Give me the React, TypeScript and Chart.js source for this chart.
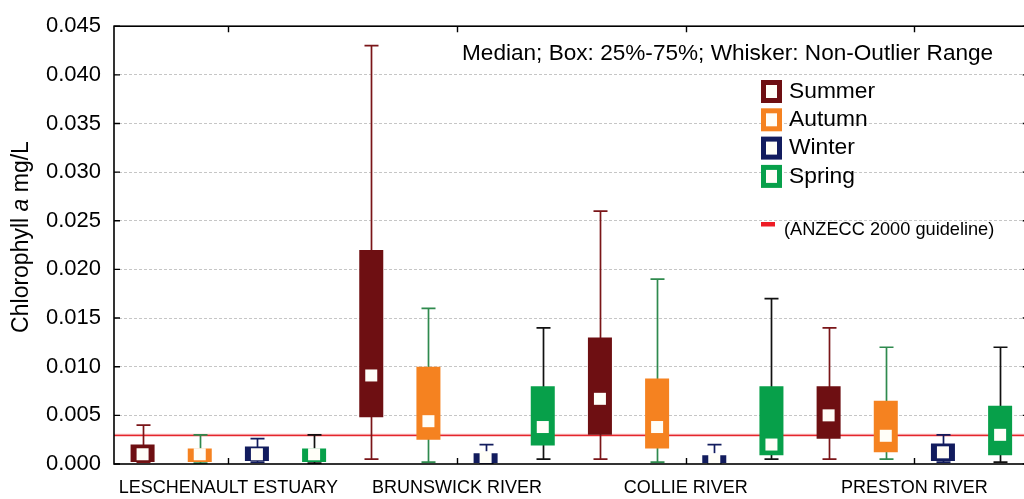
import React, { useEffect, useRef } from 'react';
import { Chart, registerables } from 'chart.js';

Chart.register(...registerables);

// ---------- data ----------
const categories = ['LESCHENAULT ESTUARY', 'BRUNSWICK RIVER', 'COLLIE RIVER', 'PRESTON RIVER'];
const seasons = ['Summer', 'Autumn', 'Winter', 'Spring'];

const summerMin = [0.0002, 0.0005, 0.0005, 0.0005];
const summerQ1 = [0.0002, 0.0048, 0.003, 0.0026];
const summerMedian = [0.001, 0.0091, 0.0067, 0.005];
const summerQ3 = [0.002, 0.022, 0.013, 0.008];
const summerMax = [0.004, 0.043, 0.026, 0.014];

const autumnMin = [0.0001, 0.0002, 0.0002, 0.0005];
const autumnQ1 = [0.0002, 0.0025, 0.0016, 0.0012];
const autumnMedian = [0.001, 0.0044, 0.0038, 0.0029];
const autumnQ3 = [0.0016, 0.01, 0.0088, 0.0065];
const autumnMax = [0.003, 0.016, 0.019, 0.012];

const winterMin = [0.0002, 0.0001, 0.0001, 0.0002];
const winterQ1 = [0.0003, 0.0001, 0.0001, 0.0003];
const winterMedian = [0.001, 0.0007, 0.0005, 0.0012];
const winterQ3 = [0.0018, 0.0011, 0.0009, 0.0021];
const winterMax = [0.0026, 0.002, 0.002, 0.003];

const springMin = [0.0001, 0.0005, 0.0005, 0.0002];
const springQ1 = [0.0002, 0.0019, 0.0009, 0.0009];
const springMedian = [0.001, 0.0038, 0.002, 0.003];
const springQ3 = [0.0016, 0.008, 0.008, 0.006];
const springMax = [0.003, 0.014, 0.017, 0.012];

const guideline = 0.003;
const yTickValues = [0, 0.005, 0.01, 0.015, 0.02, 0.025, 0.03, 0.035, 0.04, 0.045];

const headingText = 'Median; Box: 25%-75%; Whisker: Non-Outlier Range';
const guidelineLabel = '(ANZECC 2000 guideline)';

// ---------- styling ----------
const FAM = '"Liberation Sans", Arial, Helvetica, sans-serif';
const boxColors = ['#6e0f12', '#f58220', '#121c5e', '#07a04a'];
const whiskerColors = ['#7a1518', '#2f8a4e', '#121c5e', '#111111'];
const medianColor = '#fffef8';

const mins = [summerMin, autumnMin, winterMin, springMin];
const q1s = [summerQ1, autumnQ1, winterQ1, springQ1];
const medians = [summerMedian, autumnMedian, winterMedian, springMedian];
const q3s = [summerQ3, autumnQ3, winterQ3, springQ3];
const maxs = [summerMax, autumnMax, winterMax, springMax];

const extrasPlugin = {
  id: 'boxExtras',
  beforeDatasetsDraw(chart: any) {
    const { ctx, chartArea: a } = chart;
    const y = chart.scales.y;
    ctx.save();
    // guideline
    const gy = y.getPixelForValue(guideline) + 0.5;
    ctx.strokeStyle = 'rgba(235,60,65,0.35)';
    ctx.lineWidth = 3;
    ctx.beginPath();
    ctx.moveTo(a.left, gy);
    ctx.lineTo(a.right, gy);
    ctx.stroke();
    ctx.strokeStyle = '#e4262c';
    ctx.lineWidth = 1.3;
    ctx.beginPath();
    ctx.moveTo(a.left, gy);
    ctx.lineTo(a.right, gy);
    ctx.stroke();
    // whiskers
    chart.data.datasets.forEach((_ds: any, i: number) => {
      const meta = chart.getDatasetMeta(i);
      meta.data.forEach((el: any, j: number) => {
        const x = Math.round(el.x) + 0.5;
        const yMin = y.getPixelForValue(mins[i][j]);
        const yMax = y.getPixelForValue(maxs[i][j]);
        ctx.strokeStyle = whiskerColors[i];
        ctx.lineWidth = 1.7;
        ctx.beginPath();
        ctx.moveTo(x, yMin);
        ctx.lineTo(x, yMax);
        ctx.moveTo(x - 7, yMax);
        ctx.lineTo(x + 7, yMax);
        ctx.moveTo(x - 7, yMin);
        ctx.lineTo(x + 7, yMin);
        ctx.stroke();
      });
    });
    ctx.restore();
  },
  afterDatasetsDraw(chart: any) {
    const { ctx } = chart;
    const y = chart.scales.y;
    ctx.save();
    ctx.fillStyle = medianColor;
    chart.data.datasets.forEach((_ds: any, i: number) => {
      const meta = chart.getDatasetMeta(i);
      meta.data.forEach((el: any, j: number) => {
        const my = y.getPixelForValue(medians[i][j]);
        ctx.fillRect(el.x - 6, my - 6, 12, 12);
      });
    });
    ctx.restore();
  },
  afterDraw(chart: any) {
    const { ctx, chartArea: a } = chart;
    const x = chart.scales.x;
    const y = chart.scales.y;
    ctx.save();
    // frame
    ctx.strokeStyle = '#000';
    ctx.lineWidth = 1.6;
    ctx.strokeRect(a.left, a.top, a.right - a.left, a.bottom - a.top);
    // ticks
    ctx.lineWidth = 1.4;
    ctx.beginPath();
    yTickValues.forEach((v) => {
      const py = y.getPixelForValue(v);
      ctx.moveTo(a.left, py);
      ctx.lineTo(a.left + 6, py);
      ctx.moveTo(a.right, py);
      ctx.lineTo(a.right - 6, py);
    });
    categories.forEach((_c, i) => {
      const px = Math.round(x.getPixelForTick(i)) + 0.5;
      ctx.moveTo(px, a.bottom);
      ctx.lineTo(px, a.bottom - 6);
      ctx.moveTo(px, a.top);
      ctx.lineTo(px, a.top + 6);
    });
    ctx.stroke();

    // heading
    ctx.fillStyle = '#000';
    ctx.textBaseline = 'middle';
    ctx.textAlign = 'left';
    ctx.font = `22.6px ${FAM}`;
    ctx.fillText(headingText, 462, 54);

    // legend
    seasons.forEach((s, i) => {
      const cy = 91.5 + i * 28.3;
      ctx.fillStyle = boxColors[i];
      ctx.fillRect(761, cy - 11.5, 21, 23);
      ctx.fillStyle = medianColor;
      ctx.fillRect(766, cy - 6.5, 11, 13);
      ctx.fillStyle = '#000';
      ctx.font = `22.8px ${FAM}`;
      ctx.fillText(s, 789, cy);
    });
    ctx.fillStyle = '#ee1c25';
    ctx.fillRect(761, 222, 14, 4.5);
    ctx.fillStyle = '#000';
    ctx.font = `18.2px ${FAM}`;
    ctx.fillText(guidelineLabel, 784, 230);

    // y-axis title with italic "a"
    ctx.save();
    ctx.translate(22, 237);
    ctx.rotate(-Math.PI / 2);
    const parts: [string, string][] = [
      ['Chlorophyll ', `23px ${FAM}`],
      ['a', `italic 23px ${FAM}`],
      [' mg/L', `23px ${FAM}`],
    ];
    let total = 0;
    parts.forEach(([t, f]) => {
      ctx.font = f;
      total += ctx.measureText(t).width;
    });
    let cx = -total / 2;
    parts.forEach(([t, f]) => {
      ctx.font = f;
      ctx.fillText(t, cx, 0);
      cx += ctx.measureText(t).width;
    });
    ctx.restore();
    ctx.restore();
  },
};

export default function App() {
  const ref = useRef<HTMLCanvasElement>(null);
  useEffect(() => {
    if (!ref.current) return;
    const chart = new Chart(ref.current, {
      type: 'bar',
      data: {
        labels: categories,
        datasets: seasons.map((s, i) => ({
          label: s,
          data: categories.map((_c, j) => [q1s[i][j], q3s[i][j]]),
          backgroundColor: boxColors[i],
          borderWidth: 0,
          categoryPercentage: 1,
          barPercentage: 0.42,
        })) as any,
      },
      options: {
        animation: false,
        responsive: false,
        devicePixelRatio: 1,
        layout: { padding: { top: 18, right: 1.3, left: 0, bottom: 0 } },
        plugins: {
          legend: { display: false },
          tooltip: { enabled: false },
        },
        scales: {
          x: {
            type: 'category',
            offset: true,
            grid: { display: false, drawTicks: false },
            border: { display: false },
            ticks: {
              color: '#000',
              font: { family: FAM, size: 18 },
              padding: 13,
              maxRotation: 0,
              autoSkip: false,
            },
            afterFit: (s: any) => {
              s.height = 35;
            },
          },
          y: {
            min: 0,
            max: 0.045,
            afterBuildTicks: (s: any) => {
              s.ticks = yTickValues.map((v) => ({ value: v }));
            },
            ticks: {
              color: '#000',
              font: { family: FAM, size: 22 },
              padding: 13,
              callback: (v: any) => Number(v).toFixed(3),
            },
            grid: {
              drawTicks: false,
              lineWidth: 1,
              color: (c: any) =>
                c.tick && (c.tick.value === 0 || c.tick.value >= 0.045) ? 'rgba(0,0,0,0)' : '#c6c6c6',
            },
            border: { display: false, dash: [3, 2] },
            afterFit: (s: any) => {
              s.width = 114;
            },
          },
        },
      } as any,
      plugins: [extrasPlugin],
    });
    return () => chart.destroy();
  }, []);

  return (
    <div
      style={{
        position: 'fixed',
        left: 0,
        top: 0,
        width: 1024,
        height: 499,
        overflow: 'hidden',
        background: '#fff',
      }}
    >
      <canvas ref={ref} width={1030} height={499} style={{ display: 'block', width: 1030, height: 499 }} />
    </div>
  );
}
